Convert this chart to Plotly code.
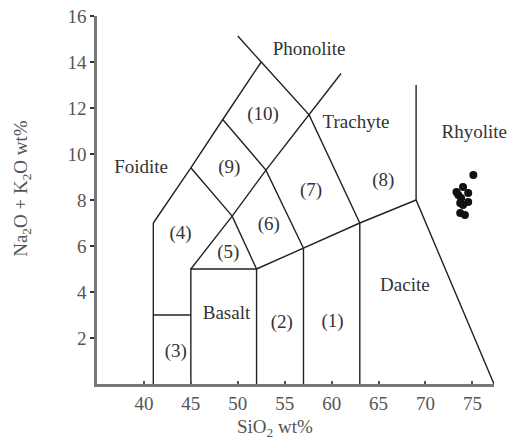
import plotly.graph_objects as go

# TAS field boundaries (SiO2, Na2O+K2O), each a polyline
boundary_x = [
    [41, 41],
    [41, 45],
    [45, 45, 52, 52],
    [57, 57],
    [63, 63],
    [52, 57, 63, 69, 77.3],
    [69, 69],
    [41, 45, 48.4, 52.5, 50],
    [45, 49.4, 52],
    [48.4, 53, 57],
    [52.5, 57.6, 63],
    [45, 49.4, 53, 57.6, 61],
]
boundary_y = [
    [0, 7],
    [3, 3],
    [0, 5, 5, 0],
    [0, 5.9],
    [0, 7],
    [5, 5.9, 7, 8, 0],
    [8, 13],
    [7, 9.4, 11.5, 14, 15.13],
    [9.4, 7.3, 5],
    [11.5, 9.3, 5.9],
    [14, 11.7, 7],
    [5, 7.3, 9.3, 11.7, 13.5],
]

# Field labels
label_text = ["Phonolite", "Trachyte", "Rhyolite", "Foidite", "(10)", "(9)", "(7)", "(8)",
              "(4)", "(6)", "(5)", "Basalt", "(2)", "(1)", "Dacite", "(3)"]
label_x = [57.6, 62.6, 75.2, 39.7, 52.7, 49.1, 57.8, 65.5,
           43.9, 53.3, 49.0, 48.8, 54.7, 60.1, 67.8, 43.4]
label_y = [14.5, 11.35, 10.9, 9.4, 11.7, 9.4, 8.4, 8.8,
           6.5, 6.9, 5.7, 3.05, 2.65, 2.7, 4.26, 1.4]

# Samples
sample_sio2 = [75.1, 74.0, 73.3, 73.5, 74.55, 73.8, 74.55, 73.7, 74.0, 73.7, 74.2]
sample_alk = [9.09, 8.57, 8.35, 8.22, 8.30, 8.09, 7.91, 7.87, 7.78, 7.43, 7.35]

x_ticks = [40, 45, 50, 55, 60, 65, 70, 75]
y_ticks = [2, 4, 6, 8, 10, 12, 14, 16]

fig = go.Figure()
for bx, by in zip(boundary_x, boundary_y):
    fig.add_trace(go.Scatter(x=bx, y=by, mode="lines",
                             line=dict(color="#222222", width=1.4),
                             hoverinfo="skip", showlegend=False))

fig.add_trace(go.Scatter(x=sample_sio2, y=sample_alk, mode="markers",
                         marker=dict(color="#111111", size=8),
                         showlegend=False))

fig.add_trace(go.Scatter(x=label_x, y=label_y, mode="text", text=label_text,
                         textfont=dict(family="Liberation Serif", size=19, color="#333333"),
                         cliponaxis=False, hoverinfo="skip", showlegend=False))

font = dict(family="Liberation Serif", size=19, color="#555555")
fig.update_layout(
    width=512, height=447,
    margin=dict(l=97, r=18, t=16, b=63, autoexpand=False),
    paper_bgcolor="white", plot_bgcolor="white",
    font=font,
    xaxis=dict(range=[35, 77.3], tickvals=x_ticks, showgrid=False, zeroline=False,
               showline=True, linecolor="#777777", linewidth=2.5,
               ticks="inside", ticklen=3, tickcolor="#555555", tickwidth=2,
               tickfont=font, ticklabeloverflow="allow", automargin=False),
    yaxis=dict(range=[0, 16], tickvals=y_ticks, showgrid=False, zeroline=False,
               showline=True, linecolor="#777777", linewidth=2.5,
               ticks="outside", ticklen=4, tickcolor="#333333", tickwidth=2,
               tickfont=font, ticklabeloverflow="allow", automargin=False),
    annotations=[
        dict(text="SiO<sub>2</sub> wt%", xref="paper", yref="paper", x=0.448, y=-0.12,
             xanchor="center", yanchor="middle", showarrow=False, font=font),
        dict(text="Na<sub>2</sub>O + K<sub>2</sub>O wt%", xref="paper", yref="paper",
             x=-0.189, y=0.533, textangle=-90, xanchor="center", yanchor="middle",
             showarrow=False, font=font),
    ],
)

fig.write_html("out.html", config={"displayModeBar": False},
               post_script="document.body.style.margin='0';")
